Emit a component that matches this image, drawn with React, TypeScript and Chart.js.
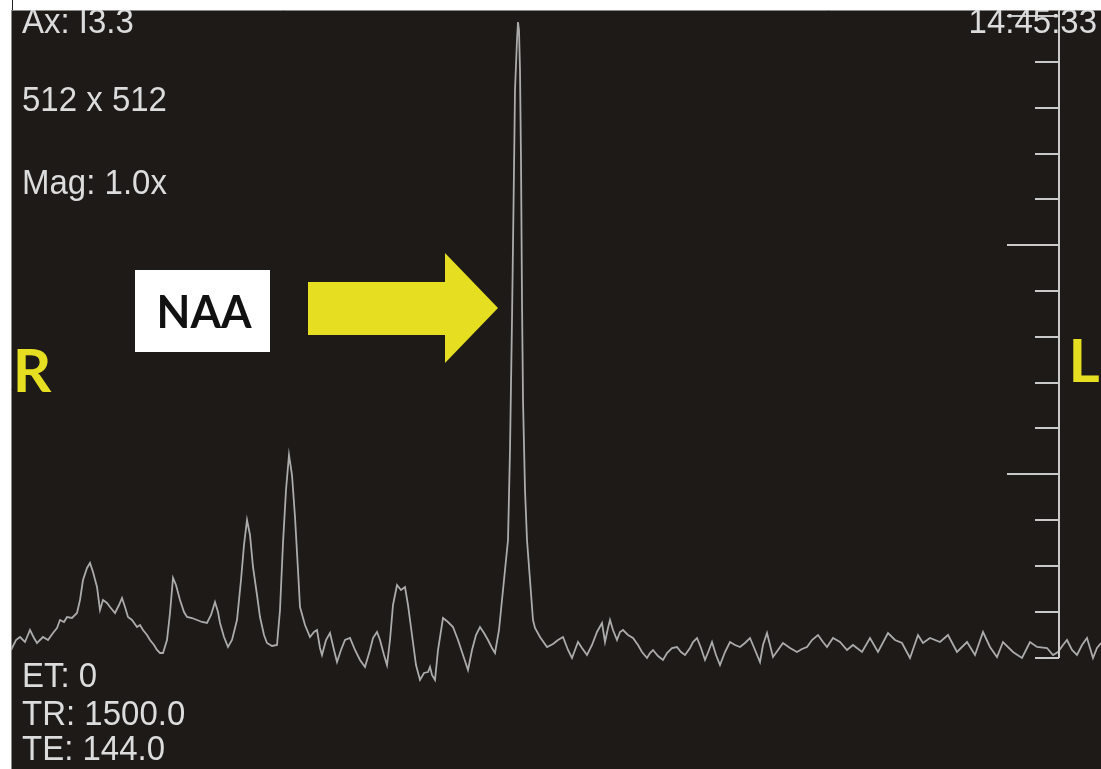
import React, { useEffect, useRef } from "react";
import { Chart, registerables } from "chart.js";

Chart.register(...registerables);

// Spectrum: point index (0..1090) and signal amplitude (baseline ~ 0)
const shiftIdx = [
  0, 5, 9, 14, 19, 23, 26, 32, 37, 42, 46, 49, 53, 56, 61, 66, 69, 72, 76, 79,
  82, 86, 89, 92, 96, 99, 104, 108, 111, 114, 117, 121, 126, 129, 132, 136, 139, 143, 146, 149,
  152, 156, 159, 162, 165, 169, 173, 176, 181, 186, 191, 196, 200, 204, 207, 209, 213, 217, 221, 226,
  230, 233, 236, 239, 242, 246, 249, 253, 256, 261, 266, 269, 272, 275, 278, 281, 284, 287, 289, 294,
  299, 303, 306, 309, 311, 315, 319, 323, 326, 330, 334, 339, 344, 349, 354, 359, 362, 366, 369, 373,
  376, 379, 382, 386, 390, 394, 397, 401, 405, 409, 413, 417, 419, 421, 424, 427, 432, 437, 442, 447,
  452, 457, 461, 465, 469, 473, 477, 481, 484, 488, 491, 494, 497, 499, 501, 503, 504, 506, 507, 508,
  509, 510, 511, 512, 514, 516, 519, 522, 524, 529, 536, 542, 547, 552, 557, 561, 564, 567, 571, 576,
  581, 586, 591, 594, 597, 599, 602, 606, 609, 612, 617, 622, 627, 631, 636, 639, 642, 647, 652, 656,
  661, 666, 670, 674, 679, 682, 686, 690, 694, 698, 701, 705, 709, 714, 719, 724, 729, 734, 739, 744,
  749, 752, 756, 759, 762, 767, 772, 779, 786, 791, 796, 801, 807, 812, 816, 822, 829, 836, 842, 851,
  859, 867, 877, 884, 891, 899, 907, 912, 919, 929, 937, 946, 956, 964, 972, 979, 986, 992, 1002, 1011,
  1019, 1026, 1036, 1042, 1047, 1052, 1056, 1061, 1066, 1071, 1076, 1082, 1086, 1090,
];
const signal = [
  -3, 7, 10, 5, 17, 9, 4, 10, 7, 14, 19, 27, 25, 30, 29, 34, 47, 67, 79, 84,
  75, 60, 37, 47, 44, 40, 34, 42, 49, 40, 30, 27, 20, 22, 17, 12, 7, 2, -3, -6,
  -6, 7, 34, 69, 62, 47, 35, 30, 29, 27, 25, 24, 32, 45, 35, 24, 10, 0, 7, 27,
  67, 102, 127, 112, 80, 52, 30, 12, 4, 1, 2, 37, 104, 157, 192, 172, 130, 77, 40, 22,
  10, 15, 17, -1, -8, 7, 14, -3, -15, -3, 7, 9, -3, -13, -20, -3, 9, 15, 7, -8,
  -18, 7, 42, 62, 57, 60, 42, 12, -18, -33, -26, -25, -20, -28, -33, -3, 29, 25, 20, 7,
  -8, -23, -3, 12, 20, 14, 7, -1, -6, 17, 47, 77, 107, 197, 327, 477, 557, 607, 625, 617,
  577, 487, 347, 247, 157, 107, 67, 27, 19, 10, 0, 3, 7, 10, -3, -11, -3, 5, -1, -8,
  2, 15, 24, 5, 19, 27, 17, 7, 15, 17, 12, 9, 2, -5, -11, -6, -3, -9, -13, -6,
  -1, 0, -5, -8, -1, 5, 9, -1, -13, -3, 5, -8, -18, -5, 5, 2, 0, 4, 9, -3,
  -15, 2, 14, 2, -10, -3, 4, -1, -5, -2, 0, 7, 12, 5, 0, 9, 5, -3, 2, -5,
  9, -5, 14, 7, 4, -11, 12, 4, 9, 5, 12, -5, 5, -8, 15, 0, -10, 5, -5, -11,
  5, 0, -1, -8, -5, 2, 7, -3, -8, 2, 9, -11, -1, 4,
];

// Right-hand ruler (amplitude of each tick mark), long marks listed separately
const rulerTicks = [-11, 35, 81, 127, 173, 219, 264, 310, 356, 402, 448, 493, 539, 585, 631];
const rulerMajor = [173, 402, 631];

// Text
const infoTopLeft = ["Ax: I3.3", "512 x 512", "Mag: 1.0x"];
const infoBottomLeft = ["ET: 0", "TR: 1500.0", "TE: 144.0"];
const timeStamp = "14:45:33";
const peakLabel = "NAA";
const sideLabels = ["R", "L"];

const X_MIN = 0;
const X_MAX = 1090;
const Y_MIN = -122;
const Y_MAX = 637;

function drawText(
  ctx: CanvasRenderingContext2D,
  text: string,
  x: number,
  y: number,
  font: string,
  color: string,
  align: CanvasTextAlign,
  sy: number
) {
  ctx.save();
  ctx.translate(x, y);
  ctx.scale(1, sy);
  ctx.font = font;
  ctx.fillStyle = color;
  ctx.textAlign = align;
  ctx.textBaseline = "alphabetic";
  ctx.fillText(text, 0, 0);
  ctx.restore();
}

const overlayPlugin = {
  id: "mrsOverlay",
  beforeDraw(chart: any) {
    const { ctx, chartArea: a, width, height } = chart;
    ctx.save();
    ctx.fillStyle = "#ffffff";
    ctx.fillRect(0, 0, width, height);
    ctx.fillStyle = "#1d1a18";
    ctx.fillRect(a.left, a.top, a.right - a.left, a.bottom - a.top);
    ctx.strokeStyle = "#8a8784";
    ctx.lineWidth = 1;
    ctx.beginPath();
    ctx.moveTo(a.left + 0.5, a.top);
    ctx.lineTo(a.left + 0.5, a.bottom);
    ctx.moveTo(a.left, a.top + 0.5);
    ctx.lineTo(a.right, a.top + 0.5);
    ctx.stroke();
    ctx.strokeStyle = "#222";
    ctx.beginPath();
    ctx.moveTo(a.left + 1.5, 0);
    ctx.lineTo(a.left + 1.5, a.top);
    ctx.stroke();
    ctx.restore();
  },
  afterDatasetsDraw(chart: any) {
    const { ctx, chartArea: a } = chart;
    const xs = chart.scales.x;
    const ys = chart.scales.y;
    const X = (v: number) => xs.getPixelForValue(v);
    const Y = (v: number) => ys.getPixelForValue(v);

    ctx.save();
    ctx.beginPath();
    ctx.rect(a.left, a.top, a.right - a.left, a.bottom - a.top);
    ctx.clip();

    // ruler
    const rx = X(1048);
    ctx.strokeStyle = "#c9c9c9";
    ctx.lineWidth = 2;
    ctx.beginPath();
    ctx.moveTo(rx, a.top);
    ctx.lineTo(rx, Y(rulerTicks[0]));
    rulerTicks.forEach((t) => {
      const py = Y(t);
      const start = rulerMajor.includes(t) ? X(996) : X(1024);
      ctx.moveTo(start, py);
      ctx.lineTo(rx, py);
    });
    ctx.stroke();

    // info text
    const grey = "#dcdcdc";
    const f = "33px 'Liberation Sans', Arial, sans-serif";
    const left = a.left + 11;
    const topBase = [33, 111, 194];
    infoTopLeft.forEach((t, i) => drawText(ctx, t, left, a.top + topBase[i] - 10, f, grey, "left", 1.08));
    const botBase = [687, 725, 760];
    infoBottomLeft.forEach((t, i) => drawText(ctx, t, left, botBase[i], f, grey, "left", 1.08));
    drawText(ctx, timeStamp, a.right - 4, a.top + 23, f, grey, "right", 1.08);

    // NAA label box
    const bx0 = X(124), bx1 = X(259), by0 = Y(377), by1 = Y(295);
    ctx.fillStyle = "#ffffff";
    ctx.fillRect(bx0, by0, bx1 - bx0, by1 - by0);
    drawText(ctx, peakLabel, X(193), Y(319), "bold 44px Lato, 'Open Sans', sans-serif", "#111111", "center", 1.05);

    // arrow
    ctx.fillStyle = "#e6df21";
    ctx.beginPath();
    ctx.moveTo(X(297), Y(365));
    ctx.lineTo(X(434), Y(365));
    ctx.lineTo(X(434), Y(394));
    ctx.lineTo(X(487), Y(339));
    ctx.lineTo(X(434), Y(284));
    ctx.lineTo(X(434), Y(312));
    ctx.lineTo(X(297), Y(312));
    ctx.closePath();
    ctx.fill();

    // side labels
    const sideFont = "bold 60px Lato, 'Open Sans', sans-serif";
    drawText(ctx, sideLabels[0], X(21), Y(255), sideFont, "#e6df21", "center", 1.0);
    drawText(ctx, sideLabels[1], X(1073), Y(265), sideFont, "#e6df21", "center", 1.0);

    ctx.restore();
  },
};

export default function App() {
  const ref = useRef<HTMLCanvasElement>(null);

  useEffect(() => {
    if (!ref.current) return;
    const points = shiftIdx.map((x, i) => ({ x, y: signal[i] }));
    const chart = new Chart(ref.current, {
      type: "line",
      data: {
        datasets: [
          {
            data: points,
            borderColor: "#ababab",
            borderWidth: 1.8,
            pointRadius: 0,
            tension: 0,
            fill: false,
          },
        ],
      },
      options: {
        responsive: false,
        animation: false,
        parsing: true,
        layout: { padding: { left: 11, top: 10, right: 0, bottom: 0 } },
        plugins: { legend: { display: false }, tooltip: { enabled: false } },
        scales: {
          x: { type: "linear", min: X_MIN, max: X_MAX, display: false },
          y: { type: "linear", min: Y_MIN, max: Y_MAX, display: false },
        },
      },
      plugins: [overlayPlugin],
    } as any);
    return () => chart.destroy();
  }, []);

  return (
    <div style={{ position: "fixed", left: 0, top: 0, width: 1101, height: 769, background: "#fff" }}>
      <canvas ref={ref} width={1101} height={769} style={{ display: "block" }} />
    </div>
  );
}
